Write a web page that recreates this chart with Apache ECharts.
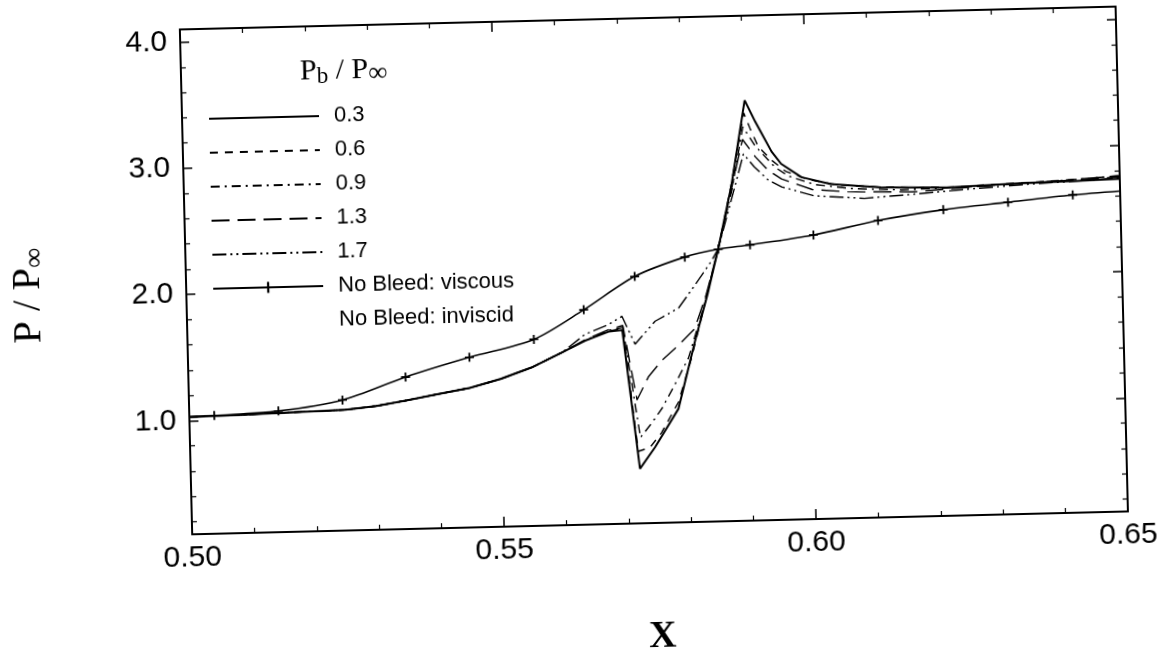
<!DOCTYPE html>
<html>
<head>
<meta charset="utf-8">
<title>P / P∞ vs X</title>
<script src="https://cdn.jsdelivr.net/npm/echarts@6/dist/echarts.min.js"></script>
<style>
  html, body { margin: 0; padding: 0; background: #fff; }
  /* the source figure is a slightly tilted scan */
  #chart { width: 1171px; height: 661px; transform: rotate(-1.4deg); transform-origin: 652px 275px; }
</style>
</head>
<body>
<div id="chart"></div>
<script>
// axis ticks
const xTicks = [0.50, 0.55, 0.60, 0.65];
const yTicks = [1.0, 2.0, 3.0, 4.0];

// common upstream part of all bleed curves
const xUp = [0.500, 0.505, 0.510, 0.515, 0.520, 0.525, 0.530, 0.535, 0.540, 0.545, 0.550, 0.555, 0.560];
const yUp = [1.03, 1.033, 1.038, 1.045, 1.05, 1.056, 1.08, 1.12, 1.163, 1.205, 1.27, 1.355, 1.47];

// Pb/Pinf = 0.3
const x03 = [0.5637, 0.5675, 0.5697, 0.5720, 0.5745, 0.5784, 0.5813, 0.5835, 0.5854, 0.5878, 0.5902, 0.5918, 0.5943, 0.5958, 0.5990, 0.6037, 0.6117, 0.6223, 0.6330, 0.6436, 0.6500];
const y03 = [1.556, 1.624, 1.635, 0.533, 0.70, 1.00, 1.53, 1.90, 2.26, 2.77, 3.43, 3.26, 3.02, 2.92, 2.81, 2.75, 2.713, 2.70, 2.718, 2.727, 2.735];

// Pb/Pinf = 0.6
const x06 = [0.5637, 0.5675, 0.5698, 0.5718, 0.5737, 0.5756, 0.5784, 0.5807, 0.5830, 0.5854, 0.5878, 0.5900, 0.5910, 0.5922, 0.5943, 0.5965, 0.6000, 0.6050, 0.6120, 0.6220, 0.6330, 0.6430, 0.6500];
const y06 = [1.558, 1.63, 1.645, 0.67, 0.70, 0.814, 1.05, 1.40, 1.82, 2.26, 2.78, 3.33, 3.20, 3.06, 2.95, 2.86, 2.79, 2.74, 2.715, 2.70, 2.72, 2.74, 2.76];

// Pb/Pinf = 0.9
const x09 = [0.5637, 0.5675, 0.5698, 0.5722, 0.5741, 0.5758, 0.5780, 0.5802, 0.5825, 0.5854, 0.5878, 0.5898, 0.5917, 0.5948, 0.5970, 0.6010, 0.6070, 0.6150, 0.6250, 0.6350, 0.6450, 0.6500];
const y09 = [1.56, 1.635, 1.655, 0.78, 0.894, 1.009, 1.20, 1.40, 1.75, 2.26, 2.72, 3.22, 3.067, 2.894, 2.82, 2.75, 2.71, 2.69, 2.70, 2.72, 2.745, 2.76];

// Pb/Pinf = 1.3
const x13 = [0.5637, 0.5675, 0.5698, 0.5718, 0.5737, 0.5759, 0.5786, 0.5813, 0.5833, 0.5854, 0.5876, 0.5897, 0.5917, 0.5937, 0.5958, 0.6007, 0.6064, 0.6170, 0.6300, 0.6400, 0.6500];
const y13 = [1.565, 1.64, 1.67, 1.078, 1.258, 1.385, 1.50, 1.63, 1.90, 2.26, 2.70, 3.12, 2.98, 2.87, 2.80, 2.71, 2.685, 2.672, 2.71, 2.73, 2.75];

// Pb/Pinf = 1.7
const x17 = [0.5637, 0.5675, 0.5697, 0.5717, 0.5750, 0.5788, 0.5815, 0.5843, 0.5854, 0.5876, 0.5898, 0.5915, 0.5937, 0.5958, 0.6010, 0.6090, 0.6170, 0.6250, 0.6350, 0.6450, 0.6500];
const y17 = [1.607, 1.68, 1.743, 1.52, 1.698, 1.797, 1.975, 2.167, 2.26, 2.63, 3.005, 2.90, 2.792, 2.737, 2.66, 2.63, 2.654, 2.681, 2.71, 2.73, 2.745];

// no bleed, viscous (points with + markers)
const xVisc = [0.500, 0.5040, 0.5143, 0.5246, 0.5348, 0.5451, 0.5555, 0.5636, 0.5719, 0.5800, 0.5854, 0.5905, 0.6007, 0.6111, 0.6216, 0.6320, 0.6424, 0.6500];
const yVisc = [1.03, 1.036, 1.06, 1.134, 1.304, 1.448, 1.578, 1.802, 2.056, 2.200, 2.256, 2.284, 2.350, 2.452, 2.525, 2.572, 2.617, 2.639];

const pairs = (xs, ys) => xs.map((x, i) => [x, ys[i]]);
const bleed = (xs, ys) => pairs(xUp.concat(xs), yUp.concat(ys));

const yMinor = [];
for (let i = 1; i <= 20; i++) {
    if (i % 5) yMinor.push(+(i * 0.2).toFixed(1));
}

const plus = 'path://M4,0H6V4H10V6H6V10H4V6H0V4H4Z';
const sans = 'Liberation Sans';
const serif = 'Liberation Serif';

function lineSeries(name, data, type, width) {
    return {
        name: name,
        type: 'line',
        data: data,
        symbol: 'none',
        color: '#000',
        lineStyle: { color: '#000', width: width, type: type },
        z: 3
    };
}

const viscData = pairs(xVisc, yVisc).map((p, i, arr) =>
    (i === 0 || i === arr.length - 1) ? { value: p, symbol: 'none' } : p);

const chart = echarts.init(document.getElementById('chart'));
chart.setOption({
    animation: false,
    backgroundColor: '#fff',
    title: {
        left: 300,
        top: 41,
        text: '{p|P}{s|b}{p| / P}{i|∞}',
        textStyle: {
            fontWeight: 'normal',
            rich: {
                p: { fontFamily: serif, fontSize: 30, fontWeight: 'normal', lineHeight: 34, color: '#000' },
                s: { fontFamily: serif, fontSize: 23, fontWeight: 'normal', lineHeight: 15, verticalAlign: 'bottom', color: '#000' },
                i: { fontFamily: serif, fontSize: 27, fontWeight: 'normal', lineHeight: 18, verticalAlign: 'bottom', color: '#000' }
            }
        }
    },
    legend: {
        orient: 'vertical',
        left: 207,
        top: 92,
        itemWidth: 110,
        itemHeight: 14,
        itemGap: 12,
        itemStyle: { opacity: 0 },
        textStyle: { fontFamily: sans, fontSize: 22, lineHeight: 22, color: '#000', padding: [0, 0, 0, 10] },
        data: ['0.3', '0.6', '0.9', '1.3', '1.7',
            { name: 'No Bleed: viscous', itemStyle: { opacity: 1 } },
            'No Bleed: inviscid']
    },
    grid: { left: 182, top: 18, width: 940, height: 514 },
    xAxis: [{
        type: 'value',
        position: 'bottom',
        min: 0.5,
        max: 0.65,
        interval: 0.05,
        name: 'X',
        nameLocation: 'middle',
        nameGap: 95,
        nameTextStyle: { fontFamily: serif, fontSize: 38, fontWeight: 'bold', color: '#000' },
        axisLine: { lineStyle: { color: '#000', width: 2 } },
        axisTick: { inside: true, length: 10, lineStyle: { color: '#000', width: 1.5 } },
        minorTick: { show: true, splitNumber: 5, length: 5, lineStyle: { color: '#000', width: 1.2 } },
        axisLabel: {
            customValues: xTicks, showMaxLabel: true, showMinLabel: true,
            formatter: v => v.toFixed(2),
            fontFamily: sans, fontSize: 30, color: '#000', margin: 9
        },
        splitLine: { show: false }
    }, {
        type: 'value',
        position: 'top',
        min: 0.5,
        max: 0.65,
        interval: 0.05,
        axisLine: { lineStyle: { color: '#000', width: 2 } },
        axisTick: { inside: true, length: 10, lineStyle: { color: '#000', width: 1.5 } },
        minorTick: { show: true, splitNumber: 5, length: 5, lineStyle: { color: '#000', width: 1.2 } },
        axisLabel: { show: false },
        splitLine: { show: false }
    }],
    yAxis: [{
        type: 'value',
        position: 'left',
        min: 0.1,
        max: 4.1,
        name: '{p|P / P}{s|∞}',
        nameLocation: 'middle',
        nameRotate: 90,
        nameGap: 136,
        nameTextStyle: {
            padding: [0, 20, 0, 0],
            rich: {
                p: { fontFamily: serif, fontSize: 40, lineHeight: 44, color: '#000' },
                s: { fontFamily: serif, fontSize: 28, lineHeight: 20, verticalAlign: 'bottom', color: '#000' }
            }
        },
        axisLine: { show: true, lineStyle: { color: '#000', width: 2 } },
        axisTick: { inside: true, length: 9, customValues: yTicks, lineStyle: { color: '#000', width: 1.5 } },
        axisLabel: {
            customValues: yTicks,
            formatter: v => v.toFixed(1),
            fontFamily: sans, fontSize: 30, color: '#000', margin: 13
        },
        splitLine: { show: false }
    }, {
        type: 'value',
        position: 'right',
        min: 0.1,
        max: 4.1,
        axisLine: { show: true, lineStyle: { color: '#000', width: 2 } },
        axisTick: { inside: true, length: 9, customValues: yTicks, lineStyle: { color: '#000', width: 1.5 } },
        axisLabel: { show: false },
        splitLine: { show: false }
    }, {
        type: 'value',
        position: 'left',
        min: 0.1,
        max: 4.1,
        axisLine: { show: false },
        axisTick: { show: true, inside: true, length: 5, customValues: yMinor, lineStyle: { color: '#000', width: 1.2 } },
        axisLabel: { show: false },
        splitLine: { show: false }
    }, {
        type: 'value',
        position: 'right',
        min: 0.1,
        max: 4.1,
        axisLine: { show: false },
        axisTick: { show: true, inside: true, length: 5, customValues: yMinor, lineStyle: { color: '#000', width: 1.2 } },
        axisLabel: { show: false },
        splitLine: { show: false }
    }],
    series: [
        lineSeries('0.3', bleed(x03, y03), 'solid', 2),
        lineSeries('0.6', bleed(x06, y06), [8, 7], 1.4),
        lineSeries('0.9', bleed(x09, y09), [9, 5, 2, 5], 1.4),
        lineSeries('1.3', bleed(x13, y13), [18, 8], 1.4),
        lineSeries('1.7', bleed(x17, y17), [14, 4, 2, 4, 2, 4], 1.4),
        {
            name: 'No Bleed: viscous',
            type: 'line',
            data: viscData,
            smooth: 0.3,
            symbol: plus,
            symbolSize: 9,
            showAllSymbol: true,
            color: '#000',
            itemStyle: { color: '#000' },
            lineStyle: { color: '#000', width: 1.6 },
            z: 4
        },
        {
            name: 'No Bleed: inviscid',
            type: 'line',
            data: [],
            symbol: 'none',
            color: 'rgba(0,0,0,0)',
            lineStyle: { color: 'rgba(0,0,0,0)' }
        }
    ]
});
</script>
</body>
</html>
